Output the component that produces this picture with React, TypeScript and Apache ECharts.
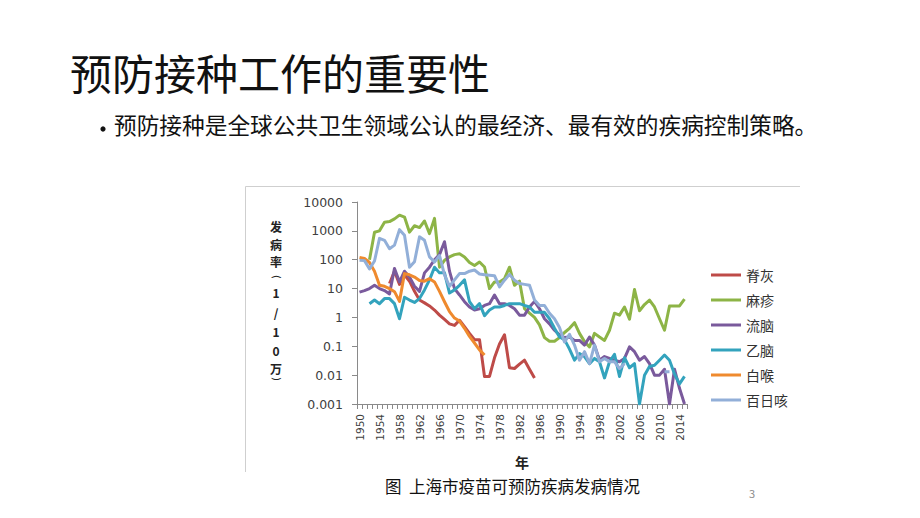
import React, { useEffect, useRef } from 'react';
import * as echarts from 'echarts';

const firstYear = 1950;
const lastYear = 2015;
const years: string[] = [];
for (let y = firstYear; y <= lastYear; y++) years.push(String(y));

const seriesNames = ['脊灰', '麻疹', '流脑', '乙脑', '白喉', '百日咳'];
const seriesColors = ['#be4b48', '#8db446', '#7a5a9c', '#33a3bd', '#ef8a2e', '#92afd8'];

const N = null;
// 脊灰 (1956-1985)
const polio = [N, N, N, N, N, N,
  15, 40, 14, 30, 18, 8, 4, 3.2, 2.5, 1.8,
  1.2, 0.85, 0.6, 0.53, 0.8, 0.48, 0.28, 0.17, 0.17, 0.009,
  0.009, 0.04, 0.12, 0.25, 0.018, 0.017, 0.024, 0.033, 0.016, 0.008,
  N, N, N, N, N, N, N, N, N, N, N, N, N, N, N, N, N, N, N, N,
  N, N, N, N, N, N, N, N, N, N];
// 麻疹 (1952-2015)
const measles = [N, N,
  100, 900, 1000, 2000, 2100, 2600, 3500, 3000, 900, 1500, 1300, 2200, 800, 2700,
  55, 95, 125, 150, 160, 125, 80, 63, 83, 56,
  10, 17, 17, 22, 55, 13, 18, 2, 1.4, 1.0,
  0.55, 0.2, 0.15, 0.15, 0.2, 0.3, 0.42, 0.66, 0.28, 0.145,
  0.095, 0.28, 0.21, 0.16, 0.36, 1.4, 1.2, 2.3, 0.87, 9.3,
  1.7, 2.8, 4, 2.3, 0.9, 0.36, 2.5, 2.5, 2.5, 4.3];
// 流脑 (1950-2015)
const meningitis = [
  7.5, 8.5, 10, 13, 10, 8.5, 6.5, 50, 17, 40,
  25, 12, 8, 35, 55, 100, 150, 420, 40, 10,
  6, 3.5, 2.3, 1.8, 2, 2.6, 3, 6, 3, 3,
  2.6, 2, 1.2, 1.2, 2.3, 3.6, 2, 0.9, 0.6, 0.36,
  0.25, 0.2, 0.21, 0.16, 0.16, 0.11, 0.21, 0.11, 0.033, 0.044,
  0.038, 0.033, 0.029, 0.038, 0.095, 0.065, 0.033, 0.044, 0.025, 0.01,
  0.01, 0.016, 0.001, 0.016, 0.0035, 0.001];
// 乙脑 (1952-2015)
const encephalitis = [N, N,
  3, 4, 3, 4.5, 4.5, 3, 0.9, 5,
  4, 3.3, 4.5, 9, 20, 55, 35, 35, 7, 9,
  13, 20, 3.5, 2, 3, 1.15, 1.8, 2.3, 2.3, 2.6,
  3, 3, 3, 2.6, 2.3, 1.5, 1.5, 1.5, 0.9, 0.42,
  0.21, 0.17, 0.08, 0.033, 0.056, 0.044, 0.025, 0.038, 0.029, 0.008,
  0.029, 0.053, 0.009, 0.04, 0.018, 0.025, 0.001, 0.01, 0.02, 0.022,
  0.033, 0.05, 0.033, 0.011, 0.005, 0.009];
// 白喉 (1950-1975)
const diphtheria = [
  120, 110, 80, 40, 13, 12, 10, 7.8, 3.6, 33,
  30, 25, 19, 18, 22, 17, 8, 3.5, 1.6, 0.95,
  0.75, 0.42, 0.22, 0.13, 0.075, 0.05,
  N, N, N, N, N, N, N, N, N, N, N, N, N, N, N, N, N, N, N, N,
  N, N, N, N, N, N, N, N, N, N, N, N, N, N, N, N, N, N, N, N];
// 百日咳 (1950-2003, 2011-2012)
const pertussis = [
  95, 93, 48, 90, 550, 470, 240, 320, 1100, 700,
  55, 85, 620, 470, 125, 83, 140, 30, 12, 20,
  33, 33, 40, 44, 32, 30, 29, 28, 11.5, 19.5,
  31, 19.5, 15, 14, 13, 4, 2.6, 2.6, 1.4, 0.9,
  0.45, 0.14, 0.26, 0.11, 0.033, 0.065, 0.025, 0.11, 0.029, 0.038,
  0.029, 0.029, 0.017, 0.025,
  N, N, N, N, N, N, N,
  0.013, 0.013,
  N, N, N];

const seriesData = [polio, measles, meningitis, encephalitis, diphtheria, pertussis];

const yMin = 0.001;
const yMax = 10000;

const yTitleChars = ['发', '病', '率', '1', '/', '1', '0', '万'];
const yTitlePos = [226, 244, 261, 292, 312, 331, 350, 368];

const CJK = '"Noto Sans CJK SC", "Microsoft YaHei", sans-serif';
const NUM = '"DejaVu Sans", Verdana, sans-serif';

export default function App() {
  const ref = useRef<HTMLDivElement>(null);
  useEffect(() => {
    if (!ref.current) return;
    const chart = echarts.init(ref.current, undefined, { renderer: 'svg' });
    const graphics: any[] = [
      { type: 'line', shape: { x1: 245.5, y1: 186.5, x2: 800, y2: 186.5 }, style: { stroke: '#cfcfcf', lineWidth: 1 } },
      { type: 'line', shape: { x1: 245.5, y1: 186.5, x2: 245.5, y2: 472 }, style: { stroke: '#cfcfcf', lineWidth: 1 } },
      { type: 'text', left: 70, top: 50, style: { text: '预防接种工作的重要性', font: `42px ${CJK}`, fill: '#111' } },
      { type: 'circle', shape: { cx: 103, cy: 129, r: 2.6 }, style: { fill: '#111' } },
      { type: 'text', left: 114, top: 113, style: { text: '预防接种是全球公共卫生领域公认的最经济、最有效的疾病控制策略。', font: `22.7px ${CJK}`, fill: '#111' } },
      { type: 'text', x: 522, y: 462, style: { text: '年', font: `bold 14px ${CJK}`, fill: '#222', align: 'center', verticalAlign: 'middle' } },
      { type: 'text', x: 385, y: 486, style: { text: '图  上海市疫苗可预防疾病发病情况', font: `16.5px ${CJK}`, fill: '#111', align: 'left', verticalAlign: 'middle' } },
      { type: 'text', x: 752, y: 493, style: { text: '3', font: `11px ${CJK}`, fill: '#8c8c8c', align: 'center', verticalAlign: 'middle' } },
      // vertical parentheses drawn as rotated brackets
      { type: 'text', x: 276, y: 277, rotation: -Math.PI / 2, style: { text: '(', font: `10px ${NUM}`, fill: '#222', align: 'center', verticalAlign: 'middle' } },
      { type: 'text', x: 276, y: 379, rotation: -Math.PI / 2, style: { text: ')', font: `10px ${NUM}`, fill: '#222', align: 'center', verticalAlign: 'middle' } },
    ];
    yTitleChars.forEach((c, i) => {
      graphics.push({ type: 'text', x: 276, y: yTitlePos[i], style: { text: c, font: `bold 12px ${CJK}`, fill: '#222', align: 'center', verticalAlign: 'middle' } });
    });

    chart.setOption({
      animation: false,
      backgroundColor: '#fff',
      color: seriesColors,
      grid: { left: 357, top: 202, width: 330, height: 202, containLabel: false },
      legend: {
        orient: 'vertical',
        left: 706,
        top: 263,
        itemWidth: 30,
        itemHeight: 3,
        itemGap: 11,
        icon: 'rect',
        textStyle: { fontFamily: CJK, fontSize: 14, color: '#333' },
        data: seriesNames,
      },
      xAxis: {
        type: 'category',
        data: years,
        boundaryGap: true,
        axisLine: { lineStyle: { color: '#8a8a8a', width: 1 } },
        axisTick: { show: true, interval: 0, length: 5, lineStyle: { color: '#8a8a8a' } },
        axisLabel: { interval: 3, rotate: 90, margin: 10, fontFamily: NUM, fontSize: 10.5, color: '#404040' },
        splitLine: { show: false },
      },
      yAxis: {
        type: 'log',
        logBase: 10,
        min: yMin,
        max: yMax,
        splitNumber: 7,
        axisLine: { show: true, lineStyle: { color: '#8a8a8a', width: 1 } },
        axisTick: { show: true, length: 5, lineStyle: { color: '#8a8a8a' } },
        axisLabel: {
          margin: 14,
          fontFamily: NUM,
          fontSize: 12.5,
          color: '#404040',
          formatter: (v: number) => String(parseFloat(Number(v).toPrecision(1))),
        },
        splitLine: { show: false },
      },
      series: seriesNames.map((name, i) => ({
        name,
        type: 'line',
        data: seriesData[i],
        showSymbol: false,
        symbol: 'none',
        connectNulls: false,
        lineStyle: { width: 3, color: seriesColors[i], join: 'round' },
        itemStyle: { color: seriesColors[i] },
      })),
      graphic: graphics,
    });
    return () => chart.dispose();
  }, []);
  return <div ref={ref} style={{ position: 'fixed', left: 0, top: 0, width: 920, height: 518, background: '#fff' }} />;
}
